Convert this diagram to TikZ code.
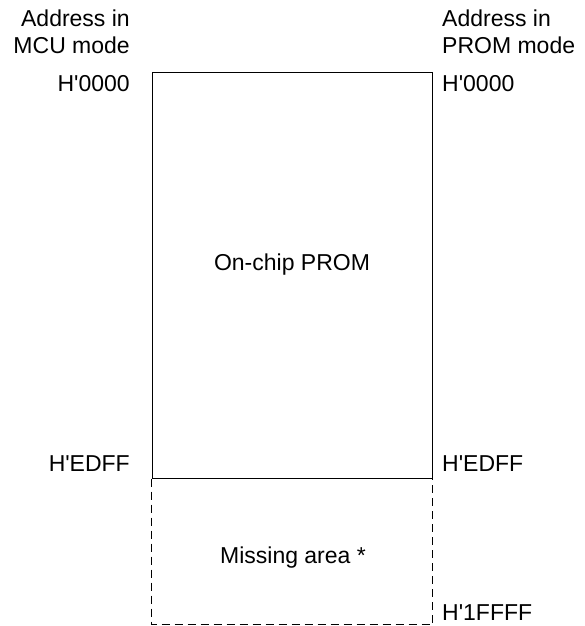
\documentclass[tikz,border=0pt]{standalone}
\usepackage{fontspec}
\setmainfont{Liberation Sans}
\usepackage{tikz}
\usetikzlibrary{
    positioning
}
\newcommand{\hx}{H\textquotesingle}
\tikzset{
    area/.style={
        rectangle,
        draw=black,
        line width=1pt,
        inner sep=0pt,
        minimum width=280pt
    },
    addr/.style={
        inner sep=0pt,
        font=\fontsize{23}{27}\selectfont
    },
    heading/.style={
        addr,
        align=left
    },
    dashline/.style={
        line width=1pt,
        dash pattern=on 8pt off 5pt
    }
}

\begin{document}
\begin{tikzpicture}[x=1pt, y=-1pt]
\useasboundingbox (0,0) rectangle (584,626);

% memory map
\node[area, minimum height=406pt] (prom) at (292,275) {};
\node[area, draw=none, minimum height=145pt, below=0pt of prom] (missing) {};
\draw[dashline] (missing.north west) -- (missing.south west) -- (missing.south east) -- (missing.north east);

\node[addr, anchor=base] (promtext) at (292,270) {On-chip PROM};
\node[addr, anchor=base] (missingtext) at (293,563) {Missing area *};

% headings
\node[heading, align=right, anchor=base east] (mcuhead) at (130,53) {Address in\\MCU mode};
\node[heading, anchor=base west] (promhead) at (442,53) {Address in\\PROM mode};

% addresses
\node[addr, anchor=base east] (mcustart) at (130,92) {\hx0000};
\node[addr, anchor=base east] (mcuend) at (130,471) {\hx EDFF};
\node[addr, anchor=base west] (promstart) at (442,92) {\hx0000};
\node[addr, anchor=base west] (promend) at (442,471) {\hx EDFF};
\node[addr, anchor=base west] (promlast) at (442,620) {\hx1FFFF};
\end{tikzpicture}
\end{document}
